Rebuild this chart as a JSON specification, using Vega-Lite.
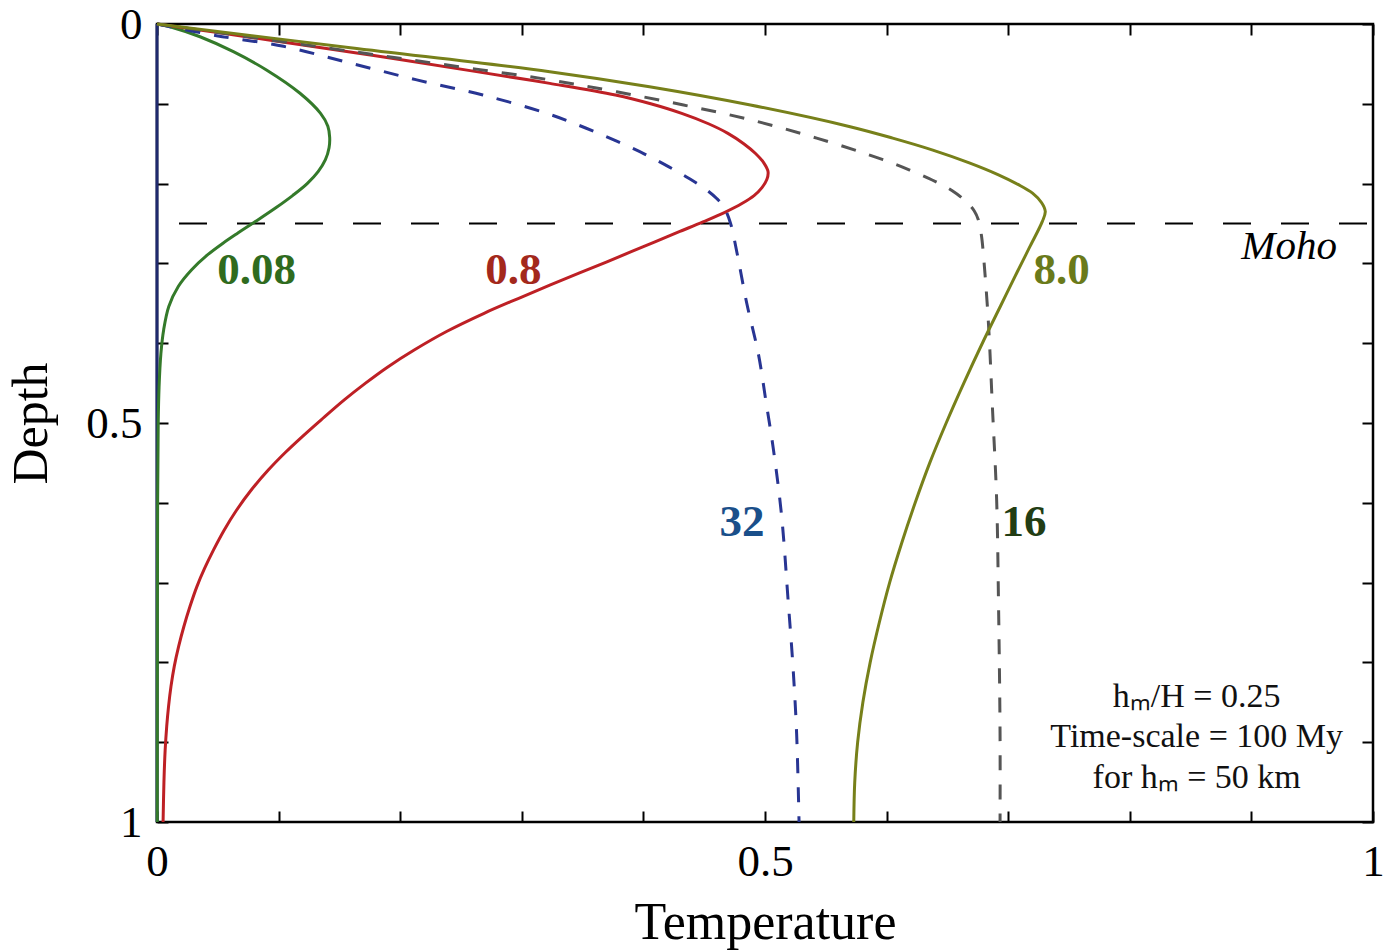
{
  "$schema": "https://vega.github.io/schema/vega-lite/v6.json",
  "width": 1216,
  "height": 798,
  "autosize": {"type": "none"},
  "padding": {"left": 157, "top": 24, "right": 15, "bottom": 128},
  "background": "white",
  "config": {"view": {"stroke": "black", "strokeWidth": 2.5}, "font": "Liberation Serif"},
  "resolve": {"axis": {"x": "independent", "y": "independent"}},
  "datasets": {
    "curves": [
      {"series": "0", "D": 0, "T": 0},
      {"series": "0", "D": 1, "T": 0},

      {"series": "0.08", "D": 0, "T": 0},
      {"series": "0.08", "D": 0.004, "T": 0.012},
      {"series": "0.08", "D": 0.016, "T": 0.0354},
      {"series": "0.08", "D": 0.0347, "T": 0.0628},
      {"series": "0.08", "D": 0.0576, "T": 0.09},
      {"series": "0.08", "D": 0.0868, "T": 0.1176},
      {"series": "0.08", "D": 0.112, "T": 0.1345},
      {"series": "0.08", "D": 0.128, "T": 0.1405},
      {"series": "0.08", "D": 0.142, "T": 0.142},
      {"series": "0.08", "D": 0.155, "T": 0.1415},
      {"series": "0.08", "D": 0.17, "T": 0.1385},
      {"series": "0.08", "D": 0.185, "T": 0.1325},
      {"series": "0.08", "D": 0.2, "T": 0.1235},
      {"series": "0.08", "D": 0.215, "T": 0.1115},
      {"series": "0.08", "D": 0.23, "T": 0.098},
      {"series": "0.08", "D": 0.2485, "T": 0.08},
      {"series": "0.08", "D": 0.262, "T": 0.0665},
      {"series": "0.08", "D": 0.275, "T": 0.054},
      {"series": "0.08", "D": 0.29, "T": 0.041},
      {"series": "0.08", "D": 0.308, "T": 0.0285},
      {"series": "0.08", "D": 0.329, "T": 0.0175},
      {"series": "0.08", "D": 0.354, "T": 0.0097},
      {"series": "0.08", "D": 0.383, "T": 0.0055},
      {"series": "0.08", "D": 0.413, "T": 0.0032},
      {"series": "0.08", "D": 0.455, "T": 0.0017},
      {"series": "0.08", "D": 0.5, "T": 0.001},
      {"series": "0.08", "D": 0.6, "T": 0.0005},
      {"series": "0.08", "D": 0.8, "T": 0.0003},
      {"series": "0.08", "D": 1, "T": 0.0002},

      {"series": "0.8", "D": 0, "T": 0},
      {"series": "0.8", "D": 0.02, "T": 0.092},
      {"series": "0.8", "D": 0.04, "T": 0.181},
      {"series": "0.8", "D": 0.06, "T": 0.264},
      {"series": "0.8", "D": 0.0744, "T": 0.323},
      {"series": "0.8", "D": 0.089, "T": 0.377},
      {"series": "0.8", "D": 0.1, "T": 0.406},
      {"series": "0.8", "D": 0.112, "T": 0.4315},
      {"series": "0.8", "D": 0.125, "T": 0.4535},
      {"series": "0.8", "D": 0.137, "T": 0.4695},
      {"series": "0.8", "D": 0.15, "T": 0.4825},
      {"series": "0.8", "D": 0.162, "T": 0.492},
      {"series": "0.8", "D": 0.174, "T": 0.499},
      {"series": "0.8", "D": 0.185, "T": 0.5025},
      {"series": "0.8", "D": 0.195, "T": 0.5015},
      {"series": "0.8", "D": 0.205, "T": 0.4975},
      {"series": "0.8", "D": 0.215, "T": 0.491},
      {"series": "0.8", "D": 0.225, "T": 0.481},
      {"series": "0.8", "D": 0.236, "T": 0.467},
      {"series": "0.8", "D": 0.248, "T": 0.449},
      {"series": "0.8", "D": 0.26, "T": 0.43},
      {"series": "0.8", "D": 0.273, "T": 0.4095},
      {"series": "0.8", "D": 0.285, "T": 0.3905},
      {"series": "0.8", "D": 0.298, "T": 0.37},
      {"series": "0.8", "D": 0.312, "T": 0.3475},
      {"series": "0.8", "D": 0.327, "T": 0.3235},
      {"series": "0.8", "D": 0.344, "T": 0.297},
      {"series": "0.8", "D": 0.3625, "T": 0.269},
      {"series": "0.8", "D": 0.385, "T": 0.2385},
      {"series": "0.8", "D": 0.4085, "T": 0.2115},
      {"series": "0.8", "D": 0.43, "T": 0.1895},
      {"series": "0.8", "D": 0.45, "T": 0.1715},
      {"series": "0.8", "D": 0.471, "T": 0.154},
      {"series": "0.8", "D": 0.496, "T": 0.135},
      {"series": "0.8", "D": 0.517, "T": 0.1195},
      {"series": "0.8", "D": 0.537, "T": 0.1055},
      {"series": "0.8", "D": 0.559, "T": 0.0915},
      {"series": "0.8", "D": 0.584, "T": 0.0775},
      {"series": "0.8", "D": 0.609, "T": 0.0655},
      {"series": "0.8", "D": 0.634, "T": 0.0553},
      {"series": "0.8", "D": 0.659, "T": 0.0465},
      {"series": "0.8", "D": 0.682, "T": 0.0392},
      {"series": "0.8", "D": 0.705, "T": 0.0328},
      {"series": "0.8", "D": 0.73, "T": 0.0271},
      {"series": "0.8", "D": 0.755, "T": 0.0221},
      {"series": "0.8", "D": 0.78, "T": 0.0178},
      {"series": "0.8", "D": 0.805, "T": 0.0142},
      {"series": "0.8", "D": 0.83, "T": 0.0115},
      {"series": "0.8", "D": 0.855, "T": 0.0095},
      {"series": "0.8", "D": 0.88, "T": 0.008},
      {"series": "0.8", "D": 0.91, "T": 0.0067},
      {"series": "0.8", "D": 0.95, "T": 0.0057},
      {"series": "0.8", "D": 1, "T": 0.005},

      {"series": "32", "D": 0, "T": 0},
      {"series": "32", "D": 0.0146, "T": 0.049},
      {"series": "32", "D": 0.028, "T": 0.104},
      {"series": "32", "D": 0.049, "T": 0.159},
      {"series": "32", "D": 0.07, "T": 0.2136},
      {"series": "32", "D": 0.089, "T": 0.268},
      {"series": "32", "D": 0.112, "T": 0.3205},
      {"series": "32", "D": 0.13, "T": 0.352},
      {"series": "32", "D": 0.1475, "T": 0.379},
      {"series": "32", "D": 0.163, "T": 0.401},
      {"series": "32", "D": 0.179, "T": 0.421},
      {"series": "32", "D": 0.194, "T": 0.438},
      {"series": "32", "D": 0.208, "T": 0.452},
      {"series": "32", "D": 0.219, "T": 0.4605},
      {"series": "32", "D": 0.229, "T": 0.466},
      {"series": "32", "D": 0.249, "T": 0.4715},
      {"series": "32", "D": 0.287, "T": 0.477},
      {"series": "32", "D": 0.35, "T": 0.485},
      {"series": "32", "D": 0.413, "T": 0.4945},
      {"series": "32", "D": 0.475, "T": 0.501},
      {"series": "32", "D": 0.534, "T": 0.507},
      {"series": "32", "D": 0.617, "T": 0.5137},
      {"series": "32", "D": 0.722, "T": 0.519},
      {"series": "32", "D": 0.805, "T": 0.523},
      {"series": "32", "D": 0.889, "T": 0.526},
      {"series": "32", "D": 1, "T": 0.528},

      {"series": "16", "D": 0, "T": 0},
      {"series": "16", "D": 0.03, "T": 0.14},
      {"series": "16", "D": 0.05, "T": 0.232},
      {"series": "16", "D": 0.07, "T": 0.323},
      {"series": "16", "D": 0.085, "T": 0.378},
      {"series": "16", "D": 0.1015, "T": 0.433},
      {"series": "16", "D": 0.12, "T": 0.488},
      {"series": "16", "D": 0.143, "T": 0.5425},
      {"series": "16", "D": 0.17, "T": 0.597},
      {"series": "16", "D": 0.183, "T": 0.619},
      {"series": "16", "D": 0.1955, "T": 0.6375},
      {"series": "16", "D": 0.209, "T": 0.654},
      {"series": "16", "D": 0.2227, "T": 0.6655},
      {"series": "16", "D": 0.234, "T": 0.672},
      {"series": "16", "D": 0.2456, "T": 0.6755},
      {"series": "16", "D": 0.265, "T": 0.678},
      {"series": "16", "D": 0.287, "T": 0.6795},
      {"series": "16", "D": 0.371, "T": 0.6836},
      {"series": "16", "D": 0.4796, "T": 0.687},
      {"series": "16", "D": 0.5965, "T": 0.6905},
      {"series": "16", "D": 0.722, "T": 0.692},
      {"series": "16", "D": 0.889, "T": 0.6933},
      {"series": "16", "D": 1, "T": 0.6933},

      {"series": "8.0", "D": 0, "T": 0},
      {"series": "8.0", "D": 0.0297, "T": 0.159},
      {"series": "8.0", "D": 0.0597, "T": 0.323},
      {"series": "8.0", "D": 0.0786, "T": 0.405},
      {"series": "8.0", "D": 0.1015, "T": 0.488},
      {"series": "8.0", "D": 0.1287, "T": 0.57},
      {"series": "8.0", "D": 0.143, "T": 0.605},
      {"series": "8.0", "D": 0.158, "T": 0.638},
      {"series": "8.0", "D": 0.174, "T": 0.668},
      {"series": "8.0", "D": 0.189, "T": 0.692},
      {"series": "8.0", "D": 0.201, "T": 0.708},
      {"series": "8.0", "D": 0.212, "T": 0.72},
      {"series": "8.0", "D": 0.224, "T": 0.7275},
      {"series": "8.0", "D": 0.235, "T": 0.7305},
      {"series": "8.0", "D": 0.2477, "T": 0.728},
      {"series": "8.0", "D": 0.28, "T": 0.7175},
      {"series": "8.0", "D": 0.312, "T": 0.707},
      {"series": "8.0", "D": 0.354, "T": 0.6935},
      {"series": "8.0", "D": 0.396, "T": 0.68},
      {"series": "8.0", "D": 0.45, "T": 0.6635},
      {"series": "8.0", "D": 0.5, "T": 0.649},
      {"series": "8.0", "D": 0.55, "T": 0.6355},
      {"series": "8.0", "D": 0.6, "T": 0.6235},
      {"series": "8.0", "D": 0.65, "T": 0.6125},
      {"series": "8.0", "D": 0.7, "T": 0.6025},
      {"series": "8.0", "D": 0.75, "T": 0.594},
      {"series": "8.0", "D": 0.8, "T": 0.5865},
      {"series": "8.0", "D": 0.85, "T": 0.5805},
      {"series": "8.0", "D": 0.9, "T": 0.5762},
      {"series": "8.0", "D": 0.95, "T": 0.5738},
      {"series": "8.0", "D": 1, "T": 0.573}
    ],
    "labels": [
      {"label": "0.08", "T": 0.082, "D": 0.308},
      {"label": "0.8", "T": 0.293, "D": 0.308},
      {"label": "8.0", "T": 0.744, "D": 0.308},
      {"label": "32", "T": 0.481, "D": 0.624},
      {"label": "16", "T": 0.713, "D": 0.624}
    ],
    "notes": [
      {"line": "hₘ/H = 0.25", "T": 0.855, "D": 0.843},
      {"line": "Time-scale = 100 My", "T": 0.855, "D": 0.893},
      {"line": "for hₘ = 50 km", "T": 0.855, "D": 0.945}
    ],
    "moho": [
      {"name": "Moho", "T": 0.931, "D": 0.279}
    ],
    "mohoLine": [
      {"D": 0.25}
    ]
  },
  "layer": [
    {
      "data": {"name": "curves"},
      "transform": [{"filter": "datum.series == '0'"}],
      "mark": {"type": "line", "color": "#1F2A6E", "strokeWidth": 3},
      "encoding": {
        "x": {"field": "T", "type": "quantitative", "scale": {"domain": [0, 1], "nice": false, "zero": false}, "axis": null},
        "y": {"field": "D", "type": "quantitative", "scale": {"domain": [0, 1], "reverse": true, "nice": false, "zero": false}, "axis": null},
        "order": {"field": "D", "type": "quantitative"}
      }
    },
    {
      "data": {"name": "mohoLine"},
      "mark": {"type": "rule", "color": "black", "strokeWidth": 2, "strokeDash": [28, 30], "strokeDashOffset": 52},
      "encoding": {
        "y": {"field": "D", "type": "quantitative", "scale": {"domain": [0, 1], "reverse": true, "nice": false, "zero": false}, "axis": null}
      }
    },
    {
      "data": {"name": "curves"},
      "transform": [{"filter": "datum.series == '0.08'"}],
      "mark": {"type": "line", "color": "#347A2A", "strokeWidth": 3, "interpolate": "catmull-rom"},
      "encoding": {
        "x": {
          "field": "T", "type": "quantitative",
          "scale": {"domain": [0, 1], "nice": false, "zero": false},
          "axis": {
            "orient": "bottom",
            "values": [0, 0.1, 0.2, 0.3, 0.4, 0.5, 0.6, 0.7, 0.8, 0.9, 1],
            "labelExpr": "datum.value == 0 ? '0' : datum.value == 0.5 ? '0.5' : datum.value == 1 ? '1' : ''",
            "tickSize": -11, "tickWidth": 2, "tickColor": "black",
            "domain": false, "grid": false,
            "labelFont": "Liberation Serif", "labelFontSize": 45, "labelColor": "black",
            "labelPadding": 28, "labelFlush": false, "labelOverlap": false,
            "title": "Temperature", "titleFont": "Liberation Serif", "titleFontSize": 52,
            "titleFontWeight": "normal", "titleColor": "black", "titlePadding": 13
          }
        },
        "y": {
          "field": "D", "type": "quantitative",
          "scale": {"domain": [0, 1], "reverse": true, "nice": false, "zero": false},
          "axis": {
            "orient": "left",
            "values": [0, 0.1, 0.2, 0.3, 0.4, 0.5, 0.6, 0.7, 0.8, 0.9, 1],
            "labelExpr": "datum.value == 0 ? '0' : datum.value == 0.5 ? '0.5' : datum.value == 1 ? '1' : ''",
            "tickSize": -11, "tickWidth": 2, "tickColor": "black",
            "domain": false, "grid": false,
            "labelFont": "Liberation Serif", "labelFontSize": 45, "labelColor": "black",
            "labelPadding": 26, "labelFlush": false, "labelOverlap": false,
            "title": "Depth", "titleFont": "Liberation Serif", "titleFontSize": 50,
            "titleFontWeight": "normal", "titleColor": "black", "titlePadding": 29
          }
        },
        "order": {"field": "D", "type": "quantitative"}
      }
    },
    {
      "data": {"name": "curves"},
      "transform": [{"filter": "datum.series == '0.8'"}],
      "mark": {"type": "line", "color": "#BE2025", "strokeWidth": 3, "interpolate": "catmull-rom"},
      "encoding": {
        "x": {
          "field": "T", "type": "quantitative",
          "scale": {"domain": [0, 1], "nice": false, "zero": false},
          "axis": {
            "orient": "top",
            "values": [0, 0.1, 0.2, 0.3, 0.4, 0.5, 0.6, 0.7, 0.8, 0.9, 1],
            "tickSize": -11, "tickWidth": 2, "tickColor": "black",
            "labels": false, "domain": false, "grid": false, "title": null
          }
        },
        "y": {
          "field": "D", "type": "quantitative",
          "scale": {"domain": [0, 1], "reverse": true, "nice": false, "zero": false},
          "axis": {
            "orient": "right",
            "values": [0, 0.1, 0.2, 0.3, 0.4, 0.5, 0.6, 0.7, 0.8, 0.9, 1],
            "tickSize": -11, "tickWidth": 2, "tickColor": "black",
            "labels": false, "domain": false, "grid": false, "title": null
          }
        },
        "order": {"field": "D", "type": "quantitative"}
      }
    },
    {
      "data": {"name": "curves"},
      "transform": [{"filter": "datum.series == '32'"}],
      "mark": {"type": "line", "color": "#283593", "strokeWidth": 3, "strokeDash": [15, 14], "interpolate": "catmull-rom"},
      "encoding": {
        "x": {"field": "T", "type": "quantitative", "scale": {"domain": [0, 1], "nice": false, "zero": false}, "axis": null},
        "y": {"field": "D", "type": "quantitative", "scale": {"domain": [0, 1], "reverse": true, "nice": false, "zero": false}, "axis": null},
        "order": {"field": "D", "type": "quantitative"}
      }
    },
    {
      "data": {"name": "curves"},
      "transform": [{"filter": "datum.series == '16'"}],
      "mark": {"type": "line", "color": "#555555", "strokeWidth": 3, "strokeDash": [15, 14], "interpolate": "catmull-rom"},
      "encoding": {
        "x": {"field": "T", "type": "quantitative", "scale": {"domain": [0, 1], "nice": false, "zero": false}, "axis": null},
        "y": {"field": "D", "type": "quantitative", "scale": {"domain": [0, 1], "reverse": true, "nice": false, "zero": false}, "axis": null},
        "order": {"field": "D", "type": "quantitative"}
      }
    },
    {
      "data": {"name": "curves"},
      "transform": [{"filter": "datum.series == '8.0'"}],
      "mark": {"type": "line", "color": "#77801A", "strokeWidth": 3, "interpolate": "catmull-rom"},
      "encoding": {
        "x": {"field": "T", "type": "quantitative", "scale": {"domain": [0, 1], "nice": false, "zero": false}, "axis": null},
        "y": {"field": "D", "type": "quantitative", "scale": {"domain": [0, 1], "reverse": true, "nice": false, "zero": false}, "axis": null},
        "order": {"field": "D", "type": "quantitative"}
      }
    },
    {
      "data": {"name": "labels"},
      "mark": {"type": "text", "font": "Liberation Serif", "fontSize": 45, "fontWeight": "bold", "align": "center", "baseline": "middle"},
      "encoding": {
        "x": {"field": "T", "type": "quantitative", "scale": {"domain": [0, 1], "nice": false, "zero": false}, "axis": null},
        "y": {"field": "D", "type": "quantitative", "scale": {"domain": [0, 1], "reverse": true, "nice": false, "zero": false}, "axis": null},
        "text": {"field": "label"},
        "color": {
          "field": "label", "type": "nominal", "legend": null,
          "scale": {"domain": ["0.08", "0.8", "8.0", "32", "16"], "range": ["#2F6B1E", "#A3281C", "#6A7A1A", "#1A4F8A", "#223D14"]}
        }
      }
    },
    {
      "data": {"name": "moho"},
      "mark": {"type": "text", "font": "Liberation Serif", "fontSize": 41, "fontStyle": "italic", "align": "center", "baseline": "middle", "color": "black"},
      "encoding": {
        "x": {"field": "T", "type": "quantitative", "scale": {"domain": [0, 1], "nice": false, "zero": false}, "axis": null},
        "y": {"field": "D", "type": "quantitative", "scale": {"domain": [0, 1], "reverse": true, "nice": false, "zero": false}, "axis": null},
        "text": {"field": "name"}
      }
    },
    {
      "data": {"name": "notes"},
      "mark": {"type": "text", "font": "Liberation Serif", "fontSize": 34, "align": "center", "baseline": "middle", "color": "#111111"},
      "encoding": {
        "x": {"field": "T", "type": "quantitative", "scale": {"domain": [0, 1], "nice": false, "zero": false}, "axis": null},
        "y": {"field": "D", "type": "quantitative", "scale": {"domain": [0, 1], "reverse": true, "nice": false, "zero": false}, "axis": null},
        "text": {"field": "line"}
      }
    }
  ]
}
